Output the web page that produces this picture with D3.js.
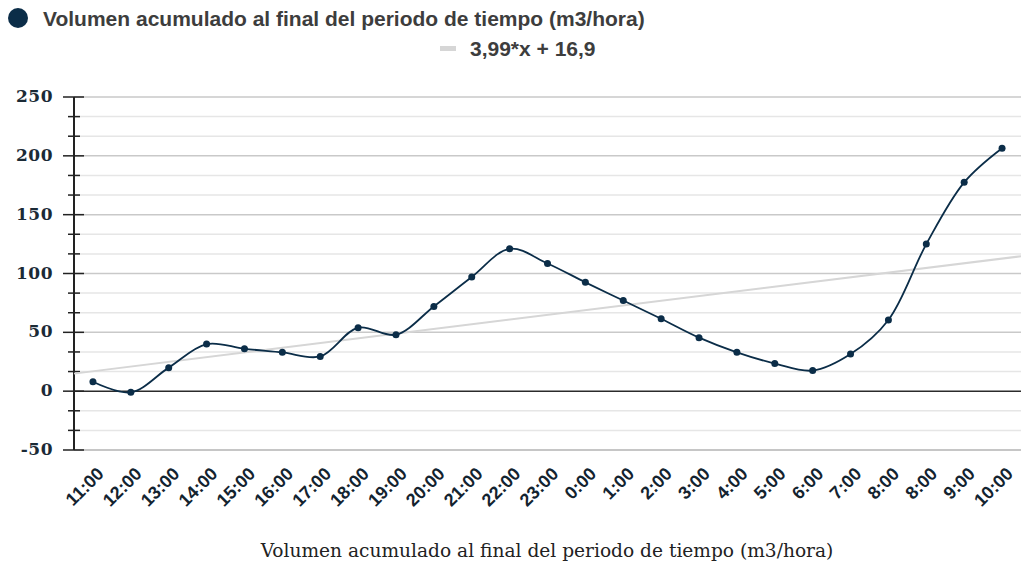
<!DOCTYPE html>
<html>
<head>
<meta charset="utf-8">
<script src="https://cdn.jsdelivr.net/npm/d3@7"></script>
<style>
  body { margin: 0; background: #fff; }
  svg { display: block; }
  .legend-text { font-family: "Liberation Sans", Arial, sans-serif; font-weight: bold; font-size: 21px; fill: #3d3d3d; }
  .y-label { font-family: "DejaVu Serif", serif; font-weight: bold; font-size: 17px; fill: #1b2a36; letter-spacing: 0.5px; }
  .x-label { font-family: "Liberation Sans", Arial, sans-serif; font-weight: bold; font-size: 18px; fill: #13232f; }
  .x-title { font-family: "DejaVu Serif", Georgia, serif; fill: #222; }
</style>
</head>
<body>
<script>
// categories (hour at end of each period)
const hours = ["11:00", "12:00", "13:00", "14:00", "15:00", "16:00", "17:00", "18:00", "19:00",
  "20:00", "21:00", "22:00", "23:00", "0:00", "1:00", "2:00", "3:00", "4:00", "5:00",
  "6:00", "7:00", "8:00", "8:00", "9:00", "10:00"];

// accumulated volume (m3/hora)
const volumen = [8, -1, 20, 40, 36, 33, 29.5, 54, 48, 72, 97, 121, 108.5, 92.5, 77, 61.5,
  45.5, 33, 23.5, 17.5, 31.5, 60.5, 125, 177.5, 206.5];

// linear trend: 3,99*x + 16,9
const trendSlope = 3.99;
const trendIntercept = 16.9;

const yMajorTicks = [-50, 0, 50, 100, 150, 200, 250];

const width = 1021, height = 566;
const plot = { left: 74, right: 1021, top: 97, bottom: 450 };

const navy = "#0b2d48";

const svg = d3.select("body").append("svg")
  .attr("width", width)
  .attr("height", height);

const x = d3.scalePoint()
  .domain(d3.range(hours.length))
  .range([plot.left, plot.right])
  .padding(0.5);

const y = d3.scaleLinear()
  .domain([-50, 250])
  .range([plot.bottom, plot.top]);

// minor ticks every 50/3
const yMinorTicks = d3.range(0, 19).map(i => -50 + i * 50 / 3)
  .filter(v => Math.abs(v - Math.round(v / 50) * 50) > 0.01);

// grid
svg.append("g").selectAll("line.minor")
  .data(yMinorTicks)
  .enter().append("line")
  .attr("x1", plot.left).attr("x2", plot.right)
  .attr("y1", d => y(d)).attr("y2", d => y(d))
  .attr("stroke", "#e6e6e6").attr("stroke-width", 1.5);

svg.append("g").selectAll("line.major")
  .data(yMajorTicks.filter(v => v !== 0 && v !== -50))
  .enter().append("line")
  .attr("x1", plot.left).attr("x2", plot.right)
  .attr("y1", d => y(d)).attr("y2", d => y(d))
  .attr("stroke", "#c9c9c9").attr("stroke-width", 1.5);

// bottom axis line
svg.append("line")
  .attr("x1", plot.left).attr("x2", plot.right)
  .attr("y1", y(-50)).attr("y2", y(-50))
  .attr("stroke", "#c6c6c6").attr("stroke-width", 2);

// zero line
svg.append("line")
  .attr("x1", plot.left).attr("x2", plot.right)
  .attr("y1", y(0)).attr("y2", y(0))
  .attr("stroke", "#2b2b2b").attr("stroke-width", 1.5);

// y axis
const yAxis = svg.append("g");
yAxis.append("line")
  .attr("x1", plot.left).attr("x2", plot.left)
  .attr("y1", y(250)).attr("y2", y(-50))
  .attr("stroke", "#222").attr("stroke-width", 2);
yAxis.selectAll("line.tmaj")
  .data(yMajorTicks)
  .enter().append("line")
  .attr("x1", plot.left - 11).attr("x2", plot.left + 10)
  .attr("y1", d => y(d)).attr("y2", d => y(d))
  .attr("stroke", "#222").attr("stroke-width", 1.5);
yAxis.selectAll("line.tmin")
  .data(yMinorTicks)
  .enter().append("line")
  .attr("x1", plot.left - 6).attr("x2", plot.left + 6)
  .attr("y1", d => y(d)).attr("y2", d => y(d))
  .attr("stroke", "#222").attr("stroke-width", 1.5);
yAxis.selectAll("text")
  .data(yMajorTicks)
  .enter().append("text")
  .attr("class", "y-label")
  .attr("x", 53)
  .attr("y", d => y(d) + 5)
  .attr("text-anchor", "end")
  .text(d => d);

// x labels
svg.append("g").selectAll("text")
  .data(hours)
  .enter().append("text")
  .attr("class", "x-label")
  .attr("text-anchor", "end")
  .attr("transform", (d, i) => `translate(${x(i) + 12},${475}) rotate(-45)`)
  .text(d => d);

// trend line across full plot width
const trendIdx = [-0.5, hours.length - 0.5];
const step = x.step();
svg.append("line")
  .attr("x1", x(0) + trendIdx[0] * step)
  .attr("x2", x(0) + trendIdx[1] * step)
  .attr("y1", y(trendSlope * trendIdx[0] + trendIntercept))
  .attr("y2", y(trendSlope * trendIdx[1] + trendIntercept))
  .attr("stroke", "#d6d6d6").attr("stroke-width", 2);

// series
const line = d3.line()
  .x((d, i) => x(i))
  .y(d => y(d))
  .curve(d3.curveCatmullRom.alpha(0.5));

svg.append("path")
  .datum(volumen)
  .attr("d", line)
  .attr("fill", "none")
  .attr("stroke", navy)
  .attr("stroke-width", 1.8);

svg.append("g").selectAll("circle")
  .data(volumen)
  .enter().append("circle")
  .attr("cx", (d, i) => x(i))
  .attr("cy", d => y(d))
  .attr("r", 3.5)
  .attr("fill", navy);

// legend
svg.append("circle").attr("cx", 18).attr("cy", 18).attr("r", 10).attr("fill", navy);
svg.append("text").attr("class", "legend-text")
  .attr("x", 43).attr("y", 26)
  .text("Volumen acumulado al final del periodo de tiempo (m3/hora)");
svg.append("rect").attr("x", 440).attr("y", 46).attr("width", 16).attr("height", 5).attr("fill", "#d6d6d6");
svg.append("text").attr("class", "legend-text")
  .attr("x", 470).attr("y", 56)
  .text("3,99*x + 16,9");

// x axis title, sized to the reference width
const title = svg.append("text").attr("class", "x-title")
  .attr("x", 547).attr("y", 557)
  .attr("text-anchor", "middle")
  .style("font-size", "18px")
  .text("Volumen acumulado al final del periodo de tiempo (m3/hora)");
const tw = title.node().getComputedTextLength();
title.style("font-size", (18 * 573 / tw).toFixed(2) + "px");
</script>
</body>
</html>
